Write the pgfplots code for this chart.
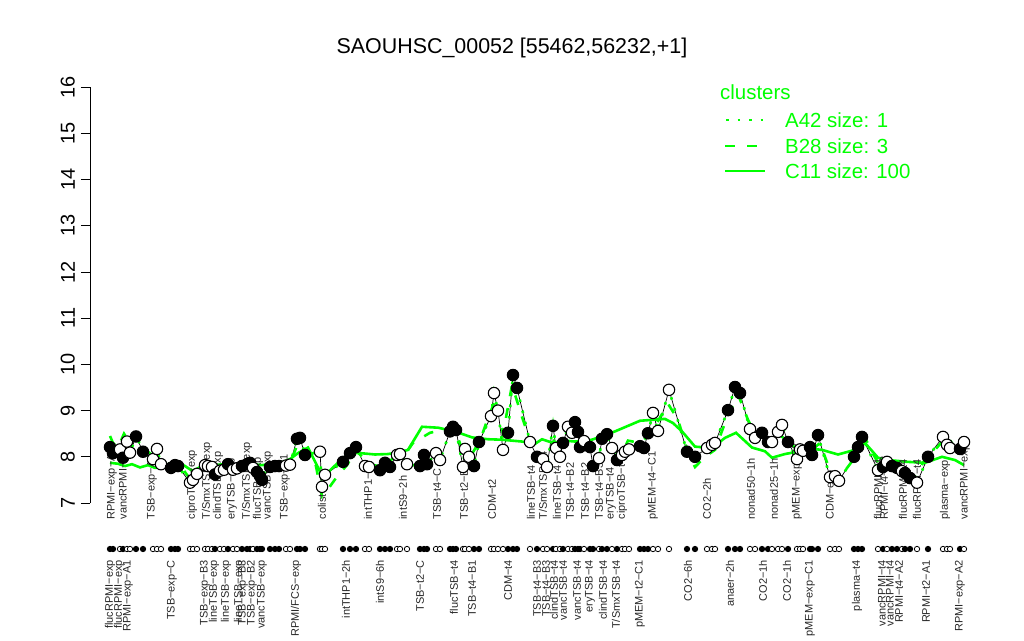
\documentclass[border=0pt]{standalone}
\usepackage{fontspec}
\setmainfont{Liberation Sans}
\usepackage{pgfplots}
\pgfplotsset{compat=1.18}
\usepackage{pgfplotstable}
\definecolor{rgreen}{RGB}{0,255,0}

\pgfplotstableread{
x y c
110 8.21 b
113 8.08 b
120 8.16 o
123 7.98 b
127 8.33 o
130 8.09 o
136 8.44 b
143 8.11 b
153 7.95 o
157 8.17 o
161 7.84 o
171 7.76 b
175 7.82 b
178 7.80 b
190 7.44 o
193 7.50 o
197 7.63 o
205 7.82 o
208 7.80 o
212 7.78 o
215 7.62 b
220 7.70 o
224 7.72 o
228 7.84 b
233 7.72 o
237 7.75 o
242 7.80 b
247 7.84 b
250 7.87 b
253 7.76 o
257 7.67 b
260 7.58 b
262 7.50 b
270 7.78 b
275 7.80 b
279 7.80 b
286 7.81 o
290 7.83 o
297 8.39 b
300 8.41 b
305 8.04 b
320 8.11 o
322 7.35 o
325 7.61 o
343 7.89 b
350 8.08 b
356 8.21 b
365 7.80 o
369 7.78 o
380 7.71 b
385 7.87 b
390 7.78 b
397 8.04 o
400 8.06 o
407 7.84 o
420 7.80 b
424 8.04 b
427 7.84 b
436 8.08 o
440 7.93 o
450 8.55 b
453 8.65 b
456 8.58 b
463 7.78 o
465 8.17 o
469 8.00 o
474 7.80 b
479 8.32 b
491 8.88 o
494 9.38 o
498 9.00 o
503 8.15 o
508 8.52 b
513 9.77 b
517 9.49 b
530 8.32 o
537 8.00 b
543 7.95 o
547 7.78 o
553 8.67 b
556 8.19 o
560 8.00 o
563 8.30 b
568 8.65 o
572 8.52 o
575 8.75 b
578 8.54 b
580 8.21 b
584 8.34 o
590 8.21 b
593 7.80 b
599 7.97 o
602 8.39 b
607 8.49 b
612 8.19 o
617 7.93 b
622 8.04 o
625 8.11 o
629 8.16 o
640 8.23 b
644 8.19 b
648 8.51 b
653 8.95 o
658 8.56 o
669 9.45 o
687 8.11 b
695 8.00 b
707 8.19 o
712 8.26 o
715 8.30 o
728 9.01 b
735 9.51 b
740 9.38 b
750 8.60 o
755 8.41 o
762 8.52 b
768 8.32 b
772 8.32 o
778 8.54 o
782 8.69 o
788 8.32 b
797 7.95 o
800 8.16 o
803 8.13 o
810 8.21 b
812 8.04 b
818 8.47 b
830 7.56 o
835 7.58 o
839 7.48 o
854 8.00 b
858 8.21 b
862 8.43 b
878 7.71 o
883 7.78 b
887 7.89 o
892 7.80 b
897 7.76 b
902 7.69 o
905 7.65 b
910 7.54 b
917 7.44 o
928 8.00 b
943 8.43 o
947 8.26 o
950 8.19 o
960 8.17 b
964 8.32 o
}\pts

\pgfplotstableread{
x y
110 7.87
118 7.85
125 7.80
132 7.84
140 7.77
148 7.82
155 7.76
162 7.78
170 7.86
177 7.90
185 7.80
192 7.70
198 7.75
205 7.86
215 7.82
228 7.85
240 7.80
252 7.84
262 7.82
272 7.85
282 7.88
290 7.95
298 8.08
308 8.20
315 7.90
323 7.55
332 7.75
342 7.95
350 8.08
360 8.08
375 8.05
388 8.06
400 8.10
408 8.15
422 8.65
438 8.63
455 8.55
472 8.42
488 8.38
502 8.37
522 8.33
535 8.28
542 8.38
553 8.30
565 8.35
575 8.33
592 8.37
615 8.55
640 8.78
665 8.82
673 8.73
682 8.55
695 8.22
712 8.19
725 8.41
736 8.52
752 8.20
765 8.12
772 7.98
785 8.06
795 8.10
808 8.18
822 8.15
838 8.05
855 8.15
865 8.30
878 7.98
888 7.93
908 7.89
925 7.87
942 8.00
955 7.93
964 7.82
}\solid

\pgfplotstableread{
x y
110 8.45
113 8.30
118 8.20
124 8.50
130 8.30
136 8.40
145 8.15
155 8.00
163 7.85
172 7.80
180 7.82
190 7.52
198 7.68
208 7.80
216 7.68
225 7.78
235 7.80
245 7.85
255 7.75
262 7.60
270 7.78
282 7.84
290 7.85
298 8.30
305 8.15
315 7.90
322 7.15
328 7.30
338 7.60
347 7.82
356 8.15
368 7.85
382 7.78
395 8.00
405 8.05
413 8.30
430 8.52
443 8.58
455 8.60
463 8.10
473 8.10
480 8.35
489 8.90
496 9.25
503 8.50
512 9.55
523 8.80
530 8.35
540 8.05
548 7.90
555 8.45
563 8.25
570 8.55
578 8.60
585 8.35
592 8.20
597 7.90
605 8.45
612 8.20
620 8.00
628 8.35
640 8.30
648 8.45
656 8.70
668 9.15
678 8.80
688 8.10
695 7.78
705 8.00
715 8.15
727 8.85
738 9.35
748 8.80
756 8.45
766 8.40
778 8.50
790 8.30
800 8.10
812 8.15
820 8.30
830 7.70
838 7.50
852 7.90
862 8.55
872 8.10
880 7.80
892 7.78
905 7.65
915 7.55
925 7.95
935 8.15
947 8.45
955 8.20
965 8.35
}\dashed

\newcommand\lfont{\fontsize{11}{11}\selectfont}
\newcommand\tl[2]{\node[rotate=90,anchor=west,inner sep=0pt,font=\lfont,text=black!85] at (axis cs:#1,6.64) {#2};}
\newcommand\bl[2]{\node[rotate=90,anchor=east,inner sep=0pt,font=\lfont,text=black!85] at (axis cs:#1,5.766) {#2};}

\begin{document}
\begin{tikzpicture}
\begin{axis}[
  x=1bp, y=46.2bp,
  xmin=90, xmax=975, ymin=7, ymax=16,
  axis x line=none, axis y line=left,
  axis line style={-, line width=0.8bp, black},
  ytick={7,8,...,16},
  tick align=outside, major tick length=9bp,
  tick style={line width=0.8bp, black},
  yticklabel style={xshift=-6bp, rotate=90, anchor=south, inner sep=0pt, font=\fontsize{20}{20}\selectfont},
  /pgf/number format/assume math mode=true,
  clip=false,
  scale only axis,
]
\path (axis cs:0,4.0346) rectangle (axis cs:1024,17.8874);

\addplot[black, line width=0.7bp, no marks] table[x=x,y=y] {\pts};
\addplot[rgreen, line width=2.6bp, no marks] table[x=x,y=y] {\solid};
\addplot[rgreen, line width=2.6bp, no marks, dash pattern=on 10bp off 12bp] table[x=x,y=y] {\dashed};
\addplot[rgreen, line width=2.6bp, no marks, dash pattern=on 2.5bp off 9bp] table[x=x,y=y] {\pts};

\addplot[only marks, scatter, scatter src=explicit symbolic, mark size=5.7bp,
  mark options={line width=1.1bp},
  scatter/classes={b={mark=*, draw=black, fill=black}, o={mark=*, draw=black, fill=white}}]
  table[x=x, y=y, meta=c] {\pts};
\addplot[only marks, scatter, scatter src=explicit symbolic, mark size=2.7bp,
  mark options={line width=0.8bp},
  scatter/classes={b={mark=*, draw=black, fill=black}, o={mark=*, draw=black, fill=white}}]
  table[x=x, y expr=6.004, meta=c] {\pts};

% title
\node[font=\fontsize{21.5}{21.5}\selectfont] at (axis cs:512,16.84) {SAOUHSC\_00052 [55462,56232,+1]};

% legend
\node[anchor=west, inner sep=0pt, text=rgreen, font=\fontsize{20.5}{20.5}\selectfont] at (axis cs:720,15.896) {clusters};
\draw[rgreen, line width=2.6bp, dash pattern=on 2.5bp off 9bp] (axis cs:726,15.29) -- (axis cs:764,15.29);
\draw[rgreen, line width=2.6bp, dash pattern=on 10bp off 12bp] (axis cs:725,14.727) -- (axis cs:760,14.727);
\draw[rgreen, line width=2.6bp] (axis cs:725,14.186) -- (axis cs:765,14.186);
\node[anchor=west, inner sep=0pt, text=rgreen, font=\fontsize{20.5}{20.5}\selectfont] at (axis cs:785,15.29) {A42 size: 1};
\node[anchor=west, inner sep=0pt, text=rgreen, font=\fontsize{20.5}{20.5}\selectfont] at (axis cs:785,14.727) {B28 size: 3};
\node[anchor=west, inner sep=0pt, text=rgreen, font=\fontsize{20.5}{20.5}\selectfont] at (axis cs:785,14.186) {C11 size: 100};

% top labels
\tl{112}{RPMI−exp−A2}
\tl{124}{vancRPMI−exp}
\tl{152}{TSB−exp−A}
\tl{192}{ciproTSB−exp}
\tl{207}{T/SmxTSB−exp}
\tl{218}{clindTSB−exp}
\tl{232}{eryTSB−exp}
\tl{247}{T/SmxTSB−exp}
\tl{258}{flucTSB−exp}
\tl{268}{vancTSB−exp}
\tl{285}{TSB−exp−B1}
\tl{323}{colist−exp}
\tl{368}{intTHP1−6h}
\tl{403}{intS9−2h}
\tl{437}{TSB−t4−C}
\tl{464}{TSB−t2−B1}
\tl{492}{CDM−t2}
\tl{531}{lineTSB−t4}
\tl{543}{T/SmxTSB−t4}
\tl{557}{lineTSB−t4}
\tl{570}{TSB−t4−B2}
\tl{585}{TSB−t4−B2}
\tl{599}{TSB−t4−B3}
\tl{611}{eryTSB−t4}
\tl{622}{ciproTSB−t4}
\tl{653}{pMEM−t4−C1}
\tl{707}{CO2−2h}
\tl{751}{nonad50−1h}
\tl{774}{nonad25−1h}
\tl{797}{pMEM−exp−C2}
\tl{831}{CDM−exp}
\tl{878}{flucRPMI−t4}
\tl{884}{RPMI−t4−A2}
\tl{903}{flucRPMI−t4}
\tl{917}{flucRPMI−t4}
\tl{945}{plasma−exp}
\tl{965}{vancRPMI−exp}

% bottom labels
\bl{110}{flucRPMI−exp}
\bl{119}{flucRPMI−exp}
\bl{128}{RPMI−exp−A1}
\bl{172}{TSB−exp−C}
\bl{205}{TSB−exp−B3}
\bl{214}{lineTSB−exp}
\bl{226}{lineTSB−exp}
\bl{239}{lineTSB−exp}
\bl{243}{TSB−exp−B3}
\bl{252}{TSB−exp−B2}
\bl{262}{vancTSB−exp}
\bl{296}{RPMI/FCS−exp}
\bl{346}{intTHP1−2h}
\bl{380}{intS9−6h}
\bl{420}{TSB−t2−C}
\bl{454}{flucTSB−t4}
\bl{472}{TSB−t4−B1}
\bl{508}{CDM−t4}
\bl{537}{TSB−t4−B3}
\bl{546}{TSB−t4−B3}
\bl{554}{clindTSB−t4}
\bl{563}{vancTSB−t4}
\bl{577}{vancTSB−t4}
\bl{590}{eryTSB−t4}
\bl{603}{clindTSB−t4}
\bl{616}{T/SmxTSB−t4}
\bl{640}{pMEM−t2−C1}
\bl{688}{CO2−6h}
\bl{730}{anaer−2h}
\bl{763}{CO2−1h}
\bl{787}{CO2−1h}
\bl{810}{pMEM−exp−C1}
\bl{857}{plasma−t4}
\bl{882}{vancRPMI−t4}
\bl{890}{vancRPMI−t4}
\bl{899}{RPMI−t4−A2}
\bl{926}{RPMI−t2−A1}
\bl{960}{RPMI−exp−A2}
\end{axis}
\end{tikzpicture}
\end{document}
